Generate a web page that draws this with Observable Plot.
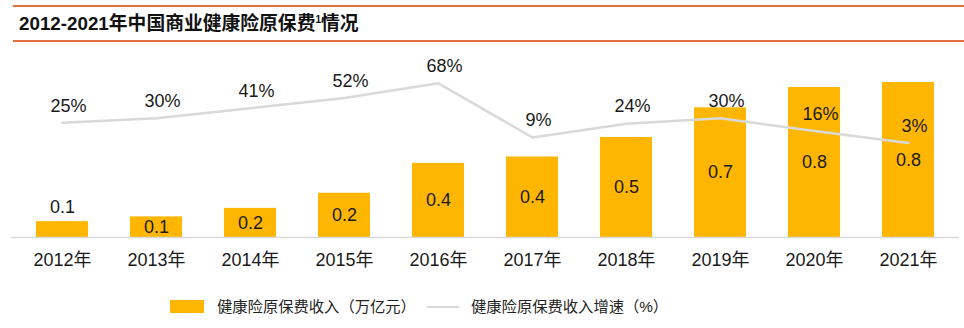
<!DOCTYPE html>
<html>
<head>
<meta charset="utf-8">
<script src="https://cdn.jsdelivr.net/npm/d3@7"></script>
<script src="https://cdn.jsdelivr.net/npm/@observablehq/plot@0.6"></script>
<style>
  html, body { margin: 0; padding: 0; background: #fff; }
  body { width: 964px; height: 328px; overflow: hidden; font-family: "Liberation Sans", Arial, "Noto Sans CJK SC", sans-serif; color: #1a1a1a; }
  #title { margin: 5px 0 0 13px; border-top: 2px solid #E2703A; border-bottom: 2px solid #E2703A; height: 33px; box-sizing: content-box; }
  #title span { display: block; padding-left: 6px; font-weight: bold; font-size: 18.8px; line-height: 33px; color: #111; }
  #title sup { font-size: 10px; vertical-align: 7px; line-height: 0; }
  #chart svg { display: block; }
  #legend { position: relative; height: 38px; font-size: 15.3px; color: #222; }
  #legend .sw { position: absolute; left: 170px; top: 10px; width: 34px; height: 13px; background: #FFB600; }
  #legend .ln { position: absolute; left: 427px; top: 16px; width: 32px; height: 2px; background: #D9D9D9; }
  #legend .t1 { position: absolute; left: 217px; top: 7px; line-height: 20px; }
  #legend .t2 { position: absolute; left: 471px; top: 7px; line-height: 20px; }
</style>
</head>
<body>
<div id="title"><span>2012-2021年中国商业健康险原保费<sup>1</sup>情况</span></div>
<div id="chart"></div>
<div id="legend">
  <div class="sw"></div><div class="t1" id="lg1"></div>
  <div class="ln"></div><div class="t2" id="lg2"></div>
</div>
<script>
const years = ["2012年","2013年","2014年","2015年","2016年","2017年","2018年","2019年","2020年","2021年"];
const premium = [0.0863, 0.1124, 0.1587, 0.2410, 0.4042, 0.4389, 0.5448, 0.7066, 0.8173, 0.8447]; // 万亿元
const growth = [25, 30, 41, 52, 68, 9, 24, 30, 16, 3]; // %
const seriesNames = ["健康险原保费收入（万亿元）", "健康险原保费收入增速（%）"];

document.getElementById("lg1").textContent = seriesNames[0];
document.getElementById("lg2").textContent = seriesNames[1];

const data = years.map((year, i) => ({year, premium: premium[i], growth: growth[i]}));
// secondary axis: -100% .. 100% mapped onto the primary 0 .. 1 range
const pct = d3.scaleLinear().domain([-100, 100]).range([0, 1]);

const fontFamily = '"Liberation Sans", Arial, "Noto Sans CJK SC", sans-serif';

const chart = Plot.plot({
  width: 964,
  height: 248,
  marginLeft: 11,
  marginRight: 5,
  marginTop: 11.5,
  marginBottom: 53,
  style: {fontFamily, fontSize: "18px", color: "#1a1a1a", background: "white"},
  x: {domain: years, paddingInner: 0.45, paddingOuter: 0.225, label: null},
  y: {domain: [0, 1], axis: null},
  marks: [
    Plot.barY(data, {x: "year", y: "premium", fill: "#FFB600"}),
    Plot.ruleY([0], {stroke: "#D9D9D9", strokeWidth: 1.5}),
    Plot.axisX({tickSize: 0, tickPadding: 16, fontSize: 18, label: null}),
    Plot.text(data.filter(d => d.premium >= 0.1), {
      x: "year", y: d => d.premium / 2, text: d => d.premium.toFixed(1),
      fontSize: 18, fill: "#1a1a1a"
    }),
    Plot.text(data.filter(d => d.premium < 0.1), {
      x: "year", y: "premium", text: d => d.premium.toFixed(1),
      dy: -14, fontSize: 18, fill: "#1a1a1a"
    }),
    Plot.line(data, {x: "year", y: d => pct(d.growth), stroke: "#D9D9D9", strokeWidth: 2.5}),
    Plot.text(data, {
      x: "year", y: d => pct(d.growth), text: d => d.growth + "%",
      dy: -17, dx: 6, fontSize: 18, fill: "#1a1a1a"
    })
  ]
});
document.getElementById("chart").appendChild(chart);
</script>
</body>
</html>
